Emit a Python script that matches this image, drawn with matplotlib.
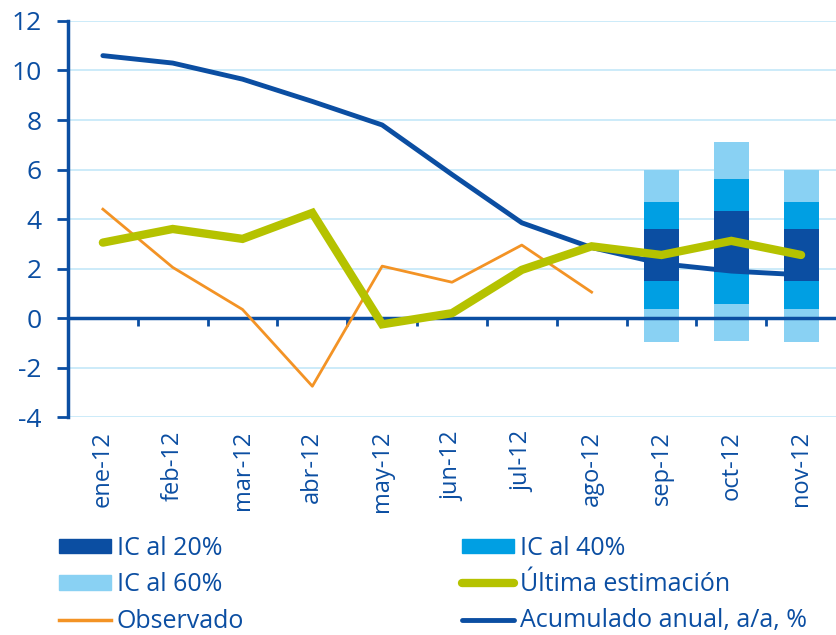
import matplotlib
matplotlib.use("Agg")
import matplotlib.pyplot as plt
from matplotlib.patches import Patch
from matplotlib.lines import Line2D

plt.rcParams["axes.unicode_minus"] = False
plt.rcParams["font.family"] = ["Open Sans", "DejaVu Sans"]

# Data
months = ["ene-12", "feb-12", "mar-12", "abr-12", "may-12", "jun-12",
          "jul-12", "ago-12", "sep-12", "oct-12", "nov-12"]
acumulado = [10.6, 10.3, 9.65, 8.75, 7.8, 5.8, 3.85, 2.85, 2.2, 1.9, 1.75]
estimacion = [3.05, 3.6, 3.2, 4.25, -0.25, 0.2, 1.95, 2.9, 2.55, 3.12, 2.55]
observado = [4.4, 2.05, 0.35, -2.75, 2.1, 1.45, 2.95, 1.05]

# confidence bands for the forecast months (sep, oct, nov)
fc_idx = [8, 9, 10]
ic60_lo = [-0.96, -0.93, -0.96]
ic60_hi = [6.0, 7.12, 6.0]
ic40_lo = [0.36, 0.58, 0.36]
ic40_hi = [4.67, 5.6, 4.67]
ic20_lo = [1.48, 1.87, 1.48]
ic20_hi = [3.58, 4.31, 3.58]

DARK = "#0b4ea2"
MID = "#009fe3"
LIGHT = "#89d1f3"
GREEN = "#b5c200"
ORANGE = "#f39325"
GRID = "#c4e8f8"
TXT = "#0b4ea2"

fig = plt.figure(figsize=(8.36, 6.35), dpi=100)
ax = fig.add_axes([0.0813, 0.343, 0.9187, 0.624])

x = list(range(len(months)))

# bands: widest first
w = 0.5
ax.bar(fc_idx, [h - l for h, l in zip(ic60_hi, ic60_lo)], bottom=ic60_lo,
       width=w, color=LIGHT, zorder=2)
ax.bar(fc_idx, [h - l for h, l in zip(ic40_hi, ic40_lo)], bottom=ic40_lo,
       width=w, color=MID, zorder=2)
ax.bar(fc_idx, [h - l for h, l in zip(ic20_hi, ic20_lo)], bottom=ic20_lo,
       width=w, color=DARK, zorder=2)

ax.axhline(0, color=DARK, lw=2.5, zorder=3)
ax.plot(x[:len(observado)], observado, color=ORANGE, lw=2, zorder=4)
ax.plot(x, acumulado, color=DARK, lw=3.5, zorder=5, solid_capstyle="round")
ax.plot(x, estimacion, color=GREEN, lw=6, zorder=6, solid_capstyle="round",
        solid_joinstyle="miter")

ax.set_xlim(-0.5, len(months) - 0.5)
ax.set_ylim(-4, 12)
ax.set_yticks(range(-4, 13, 2))
ax.yaxis.grid(True, color=GRID, lw=1.2, zorder=0)
ax.set_axisbelow(True)

for s in ["top", "right", "bottom"]:
    ax.spines[s].set_visible(False)
ax.spines["left"].set_color(DARK)
ax.spines["left"].set_linewidth(2.5)
ax.tick_params(axis="y", colors=DARK, length=8, width=2, labelsize=19,
               labelcolor=TXT, pad=11)

ax.set_xticks(x)
ax.set_xticklabels(months, rotation=90, fontsize=17, color=TXT)
ax.tick_params(axis="x", length=0, pad=10)

# small tick marks between months on the zero line
zero_ax = ax.secondary_xaxis(4 / 16)
zero_ax.spines["bottom"].set_visible(False)
zero_ax.set_xticks([i + 0.5 for i in x[:-1]])
zero_ax.set_xticklabels([])
zero_ax.tick_params(axis="x", colors=DARK, length=6, width=2)

# legend: two columns, built as two legends so each column sits where it should
col1 = [
    Patch(color=DARK, label="IC al 20%"),
    Patch(color=LIGHT, label="IC al 60%"),
    Line2D([], [], color=ORANGE, lw=2.5, label="Observado"),
]
col2 = [
    Patch(color=MID, label="IC al 40%"),
    Line2D([], [], color=GREEN, lw=6, solid_capstyle="round", label="Última estimación"),
    Line2D([], [], color=DARK, lw=3.5, solid_capstyle="round", label="Acumulado anual, a/a, %"),
]
leg_kw = dict(loc="upper left", frameon=False, borderpad=0, borderaxespad=0,
              prop={"size": 18}, handlelength=2.07, handleheight=0.5,
              handletextpad=0.24, labelspacing=0.45, labelcolor=TXT)
leg1 = fig.legend(handles=col1, bbox_to_anchor=(59 / 836, 1 - 536 / 635), **leg_kw)
leg2 = fig.legend(handles=col2, bbox_to_anchor=(462 / 836, 1 - 536 / 635), **leg_kw)

fig.savefig("out.png", dpi=100)
